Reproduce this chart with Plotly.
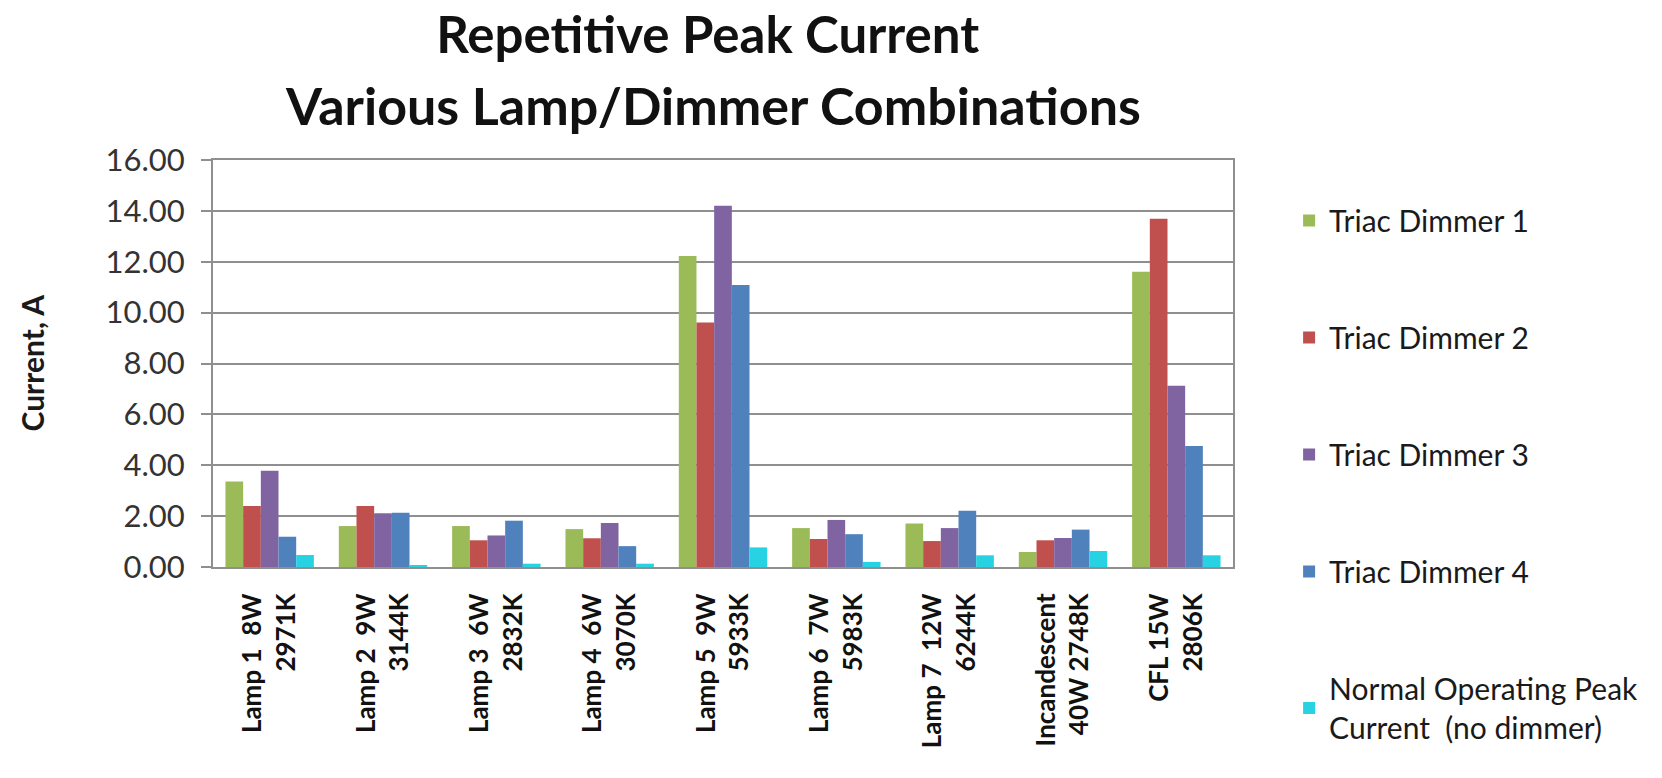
import plotly.graph_objects as go

categories = [
    "Lamp 1  8W<br>2971K",
    "Lamp 2  9W<br>3144K",
    "Lamp 3  6W<br>2832K",
    "Lamp 4  6W<br>3070K",
    "Lamp 5  9W<br>5933K",
    "Lamp 6  7W<br>5983K",
    "Lamp 7  12W<br>6244K",
    "Incandescent<br>40W 2748K",
    "CFL 15W<br>2806K",
]

series_names = [
    "Triac Dimmer 1",
    "Triac Dimmer 2",
    "Triac Dimmer 3",
    "Triac Dimmer 4",
    "Normal Operating Peak<br>Current  (no dimmer)",
]

dimmer1 = [3.36, 1.61, 1.61, 1.49, 12.23, 1.53, 1.71, 0.59, 11.61]
dimmer2 = [2.40, 2.40, 1.05, 1.13, 9.61, 1.10, 1.02, 1.05, 13.69]
dimmer3 = [3.78, 2.11, 1.24, 1.73, 14.20, 1.85, 1.53, 1.14, 7.13]
dimmer4 = [1.19, 2.13, 1.82, 0.82, 11.09, 1.29, 2.21, 1.47, 4.76]
normal = [0.47, 0.05, 0.13, 0.13, 0.77, 0.20, 0.46, 0.63, 0.46]

colors = ["#9BBB59", "#C0504D", "#8064A2", "#4F81BD", "#27D2E2"]

y_ticks = [0, 2, 4, 6, 8, 10, 12, 14, 16]

fig = go.Figure()
for i, (name, vals) in enumerate(zip(series_names, [dimmer1, dimmer2, dimmer3, dimmer4, normal])):
    fig.add_trace(go.Bar(
        x=categories, y=vals, name=name,
        marker=dict(color=colors[i], line=dict(width=0)),
        legendgroup="g%d" % i,
    ))

fig.update_layout(
    width=1662, height=778,
    paper_bgcolor="white", plot_bgcolor="white",
    barmode="group", bargap=0.22, bargroupgap=0,
    margin=dict(l=213, r=429, t=160, b=211, autoexpand=False),
    font=dict(family="Lato, 'Open Sans', sans-serif", color="#1a1a1a"),
    title=dict(
        text="<b>Repetitive Peak Current</b>",
        x=0.485, xanchor="center", xref="paper",
        y=1 - 35 / 778, yanchor="middle", yref="container",
        font=dict(size=51, color="#111111"),
    ),
    showlegend=True,
    legend=dict(
        x=1.055, xanchor="left", y=0.915, yanchor="top",
        font=dict(size=30, color="#1a1a1a"),
        tracegroupgap=75, bgcolor="rgba(0,0,0,0)",
        maxheight=760,
    ),
)

fig.add_annotation(
    text="<b>Various Lamp/Dimmer Combinations</b>",
    xref="paper", yref="paper", x=0.49, y=1 + (160 - 105) / 407,
    xanchor="center", yanchor="middle", showarrow=False,
    font=dict(size=52, color="#111111"),
)

fig.add_annotation(
    text="<b>Current, A</b>",
    xref="paper", yref="paper", x=(31 - 213) / 1020, y=0.5,
    xanchor="center", yanchor="middle", showarrow=False, textangle=-90,
    font=dict(size=30, color="#1a1a1a"),
)

fig.update_yaxes(
    range=[0, 16], tickvals=y_ticks,
    ticktext=["%.2f" % v for v in y_ticks],
    showgrid=True, gridcolor="#8f8f8f", gridwidth=2,
    showline=True, linecolor="#8f8f8f", linewidth=2, mirror=True,
    ticks="outside", ticklen=10, tickcolor="#8f8f8f", tickwidth=2,
    ticklabelstandoff=10,
    tickfont=dict(size=31, color="#333333"),
    zeroline=False,
)
fig.update_xaxes(
    tickangle=-90,
    tickfont=dict(size=26, color="#111111", weight="bold"),
    showline=True, linecolor="#8f8f8f", linewidth=2, mirror=True,
    ticks="", ticklabelstandoff=14,
    showgrid=False,
)

fig.write_html(
    "out.html",
    config={"displayModeBar": False},
    post_script="document.body.style.margin='0';document.body.style.overflow='hidden';",
)
